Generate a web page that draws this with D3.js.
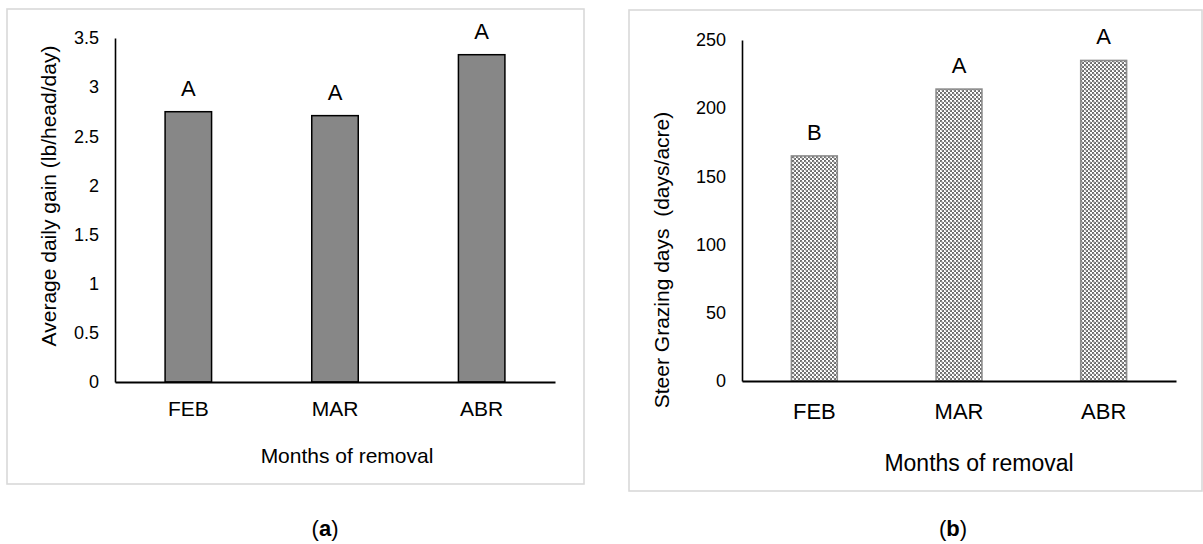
<!DOCTYPE html>
<html>
<head>
<meta charset="utf-8">
<script src="https://cdn.jsdelivr.net/npm/d3@7"></script>
<style>
  html, body { margin: 0; padding: 0; background: #fff; }
  svg { display: block; font-family: "Liberation Sans", Arial, sans-serif; }
</style>
</head>
<body>
<svg id="chart" width="1203" height="544"></svg>
<script>
// ---- data ----
const categories = ["FEB", "MAR", "ABR"];
const gainValues = [2.75, 2.71, 3.33];
const gainLetters = ["A", "A", "A"];
const gainTicks = [0, 0.5, 1, 1.5, 2, 2.5, 3, 3.5];
const grazingValues = [165, 214, 235];
const grazingLetters = ["B", "A", "A"];
const grazingTicks = [0, 50, 100, 150, 200, 250];
const gainTitle = "Average daily gain (lb/head/day)";
const grazingTitle = "Steer Grazing days\u00a0 (days/acre)";
const xTitle = "Months of removal";

const svg = d3.select("#chart");
svg.append("rect").attr("width", 1203).attr("height", 544).attr("fill", "#fff");

// pattern for panel b
const defs = svg.append("defs");
const pat = defs.append("pattern").attr("id", "checker")
  .attr("patternUnits", "userSpaceOnUse").attr("width", 4).attr("height", 4);
pat.append("rect").attr("width", 4).attr("height", 4).attr("fill", "#ffffff");
pat.append("rect").attr("x", 0).attr("y", 0).attr("width", 2).attr("height", 2).attr("fill", "#6e6e6e");
pat.append("rect").attr("x", 2).attr("y", 2).attr("width", 2).attr("height", 2).attr("fill", "#6e6e6e");
pat.append("rect").attr("x", 1).attr("y", 1).attr("width", 2).attr("height", 2).attr("fill", "#a8a8a8").attr("opacity", 0.5);

function panel(cfg) {
  const g = svg.append("g");
  // frame
  g.append("rect")
    .attr("x", cfg.frame[0]).attr("y", cfg.frame[1])
    .attr("width", cfg.frame[2]).attr("height", cfg.frame[3])
    .attr("fill", "#fff").attr("stroke", "#d9d9d9").attr("stroke-width", 1.6);

  const x = d3.scaleBand().domain(categories).range([cfg.x0, cfg.x1]).padding(0);
  const y = d3.scaleLinear().domain([0, cfg.max]).range([cfg.yBase, cfg.yTop]);
  const bw = x.bandwidth() * cfg.barFrac;

  // bars
  g.selectAll("rect.bar").data(cfg.values).enter().append("rect")
    .attr("class", "bar")
    .attr("x", (d, i) => x(categories[i]) + x.bandwidth() / 2 - bw / 2)
    .attr("y", d => y(d))
    .attr("width", bw)
    .attr("height", d => y(0) - y(d))
    .attr("fill", cfg.fill)
    .attr("stroke", cfg.stroke).attr("stroke-width", cfg.strokeW);

  // letters
  g.selectAll("text.letter").data(cfg.values).enter().append("text")
    .attr("class", "letter")
    .attr("x", (d, i) => x(categories[i]) + x.bandwidth() / 2)
    .attr("y", d => y(d) - 24)
    .attr("dy", "0.36em")
    .attr("text-anchor", "middle")
    .attr("font-size", cfg.letterSize)
    .attr("fill", "#000")
    .text((d, i) => cfg.letters[i]);

  // y axis
  const ya = g.append("g").attr("transform", `translate(${cfg.x0},0)`)
    .call(d3.axisLeft(y).tickValues(cfg.ticks).tickSize(0).tickSizeOuter(0)
      .tickPadding(cfg.tickPad).tickFormat(d3.format("")));
  ya.select(".domain").attr("stroke", "#000").attr("stroke-width", 1.6);
  ya.selectAll("text").attr("font-size", cfg.tickSize).attr("fill", "#000")
    .attr("font-family", "Liberation Sans, Arial, sans-serif");

  // x axis
  const xa = g.append("g").attr("transform", `translate(0,${cfg.yBase})`)
    .call(d3.axisBottom(x).tickSize(0).tickSizeOuter(0));
  xa.select(".domain").attr("stroke", "#000").attr("stroke-width", 1.8);
  xa.selectAll("text").attr("font-size", cfg.catSize).attr("fill", "#000")
    .attr("font-family", "Liberation Sans, Arial, sans-serif")
    .attr("y", cfg.catOffset).attr("dy", "0.36em");

  // axis titles
  g.append("text")
    .attr("transform", `translate(${cfg.yTitleX},${cfg.yTitleY}) rotate(-90)`)
    .attr("text-anchor", "middle").attr("dy", "0.36em")
    .attr("font-size", cfg.yTitleSize).attr("fill", "#000")
    .text(cfg.yTitle);
  g.append("text")
    .attr("x", cfg.xTitleX).attr("y", cfg.xTitleY).attr("dy", "0.36em")
    .attr("text-anchor", "middle")
    .attr("font-size", cfg.xTitleSize).attr("fill", "#000")
    .text(xTitle);

  // panel label
  const lab = g.append("text")
    .attr("x", cfg.labelX).attr("y", cfg.labelY).attr("dy", "0.36em")
    .attr("text-anchor", "middle").attr("font-size", 22).attr("fill", "#000");
  lab.append("tspan").text("(");
  lab.append("tspan").attr("font-weight", "bold").text(cfg.label);
  lab.append("tspan").text(")");
}

panel({
  frame: [7, 9, 577, 475],
  x0: 115, x1: 555, yTop: 38, yBase: 382, max: 3.5,
  values: gainValues, letters: gainLetters, ticks: gainTicks,
  barFrac: 0.317, fill: "#878787", stroke: "#000", strokeW: 1.5,
  letterSize: 22, tickSize: 18, tickPad: 16, catSize: 21, catOffset: 26,
  yTitle: gainTitle, yTitleX: 48, yTitleY: 196, yTitleSize: 21,
  xTitleX: 347, xTitleY: 455, xTitleSize: 21,
  label: "a", labelX: 325, labelY: 528
});

panel({
  frame: [629, 10, 573, 481],
  x0: 742, x1: 1176, yTop: 40, yBase: 381, max: 250,
  values: grazingValues, letters: grazingLetters, ticks: grazingTicks,
  barFrac: 0.317, fill: "url(#checker)", stroke: "#8c8c8c", strokeW: 1.6,
  letterSize: 22, tickSize: 18, tickPad: 16, catSize: 22, catOffset: 30,
  yTitle: grazingTitle, yTitleX: 661, yTitleY: 260, yTitleSize: 21,
  xTitleX: 979, xTitleY: 463, xTitleSize: 23,
  label: "b", labelX: 953, labelY: 528
});
</script>
</body>
</html>
